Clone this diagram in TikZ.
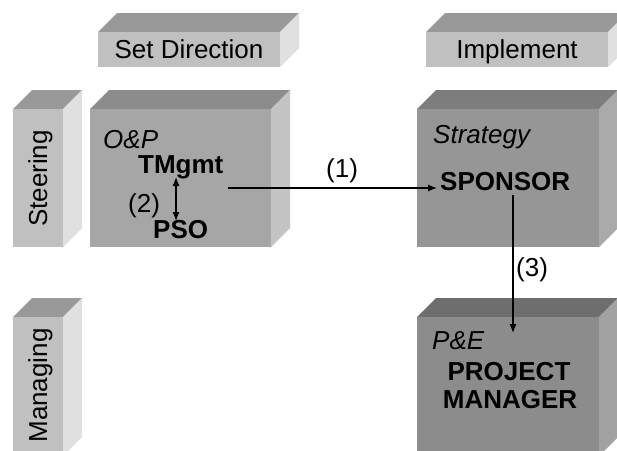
\documentclass[tikz,border=0pt]{standalone}
\usepackage{fontspec}
\setmainfont{Liberation Sans}
\usetikzlibrary{arrows.meta}
\definecolor{smfront}{HTML}{C0C0C0}
\definecolor{smtop}{HTML}{999999}
\definecolor{smside}{HTML}{E0E0E0}
\definecolor{opfront}{HTML}{A6A6A6}
\definecolor{optop}{HTML}{8C8C8C}
\definecolor{opside}{HTML}{C4C4C4}
\definecolor{stfront}{HTML}{969696}
\definecolor{sttop}{HTML}{7D7D7D}
\definecolor{stside}{HTML}{AAAAAA}
\definecolor{pefront}{HTML}{8C8C8C}
\definecolor{petop}{HTML}{6E6E6E}
\definecolor{peside}{HTML}{A2A2A2}
\newcommand{\blockcube}[7]{%
  \fill[#6] (#1,#2) -- ({#1+19},{#2-19}) -- ({#3+19},{#2-19}) -- (#3,#2) -- cycle;
  \fill[#7] (#3,#2) -- ({#3+19},{#2-19}) -- ({#3+19},{#4-19}) -- (#3,#4) -- cycle;
  \fill[#5] (#1,#2) rectangle (#3,#4);
}
\tikzset{
  txt/.style={inner sep=0pt, font=\fontsize{26}{30}\selectfont},
  lbl/.style={txt, anchor=base west},
  bld/.style={lbl, font=\fontsize{26}{30}\selectfont\bfseries},
  itl/.style={lbl, font=\fontsize{26}{30}\selectfont\itshape},
  arr/.style={line width=1.2pt, -{Latex[length=9pt,width=7pt]}},
  darr/.style={line width=1.2pt, {Latex[length=9pt,width=7pt]}-{Latex[length=9pt,width=7pt]}}
}
\begin{document}
\begin{tikzpicture}[x=1pt,y=-1pt]
\fill[white] (0,0) rectangle (617,450);
\clip (0,0) rectangle (617,450);
\useasboundingbox (0,0) rectangle (617,450);
% header boxes
\blockcube{98}{32}{280}{67}{smfront}{smtop}{smside}
\blockcube{426}{32}{608}{67}{smfront}{smtop}{smside}
% row boxes
\blockcube{13}{109}{63}{247}{smfront}{smtop}{smside}
\blockcube{13}{317}{63}{456}{smfront}{smtop}{smside}
% main boxes
\blockcube{90}{109}{271}{247}{opfront}{optop}{opside}
\blockcube{417}{109}{599}{247}{stfront}{sttop}{stside}
\blockcube{417}{317}{599}{456}{pefront}{petop}{peside}
% headers
\node[txt, anchor=base] (setdir) at (189,58) {Set Direction};
\node[txt, anchor=base] (impl) at (517,58) {Implement};
\node[txt, anchor=base, rotate=90] (steer) at (47,178.5) {Steering};
\node[txt, anchor=base, rotate=90] (manag) at (47,385.5) {Managing};
% O&P box
\node[itl] (op) at (103,148) {O\&P};
\node[bld] (tmgmt) at (138,173) {TMgmt};
\node[lbl] (l2) at (128,212.5) {(2)};
\node[bld] (pso) at (153,238) {PSO};
% Strategy box
\node[itl] (strat) at (433,143) {Strategy};
\node[bld] (sponsor) at (440,190) {SPONSOR};
% P&E box
\node[itl] (pe) at (432,349) {P\&E};
\node[txt, anchor=base, font=\fontsize{26}{30}\selectfont\bfseries] (proj) at (509,380) {PROJECT};
\node[txt, anchor=base, font=\fontsize{26}{30}\selectfont\bfseries] (mgr) at (510,408) {MANAGER};
% connector labels
\node[lbl] (l1) at (326,177.5) {(1)};
\node[lbl] (l3) at (516,276.5) {(3)};
% connectors
\coordinate (a1s) at (228,188);
\coordinate (a1e) at (437,188);
\draw[arr] (a1s) -- (a1e);
\coordinate (a2s) at (176,177);
\coordinate (a2e) at (176,221);
\draw[darr] (a2s) -- (a2e);
\coordinate (a3s) at (513,195);
\coordinate (a3e) at (513,333);
\draw[arr] (a3s) -- (a3e);
\end{tikzpicture}
\end{document}
